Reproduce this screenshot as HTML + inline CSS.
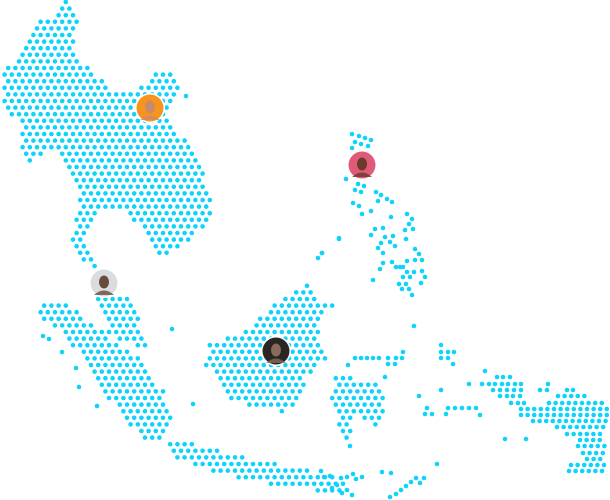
<!DOCTYPE html>
<html><head><meta charset="utf-8"><style>
html,body{margin:0;padding:0;background:#fff;width:610px;height:500px;overflow:hidden}
svg{display:block}
</style></head><body>
<svg id="s" width="610" height="500" viewBox="0 0 610 500" xmlns="http://www.w3.org/2000/svg">
<g id="d" fill="#0fd3fb"></g>
<g id="av"></g>
</svg>
<script>
var g=document.getElementById('d');
function dot(x,y,r){var c=document.createElementNS('http://www.w3.org/2000/svg','circle');c.setAttribute('cx',x);c.setAttribute('cy',y);c.setAttribute('r',r||2.3);g.appendChild(c);}
function inside(p,x,y){var c=false;for(var i=0,j=p.length-1;i<p.length;j=i++){var xi=p[i][0],yi=p[i][1],xj=p[j][0],yj=p[j][1];if(((yi>y)!=(yj>y))&&(x<(xj-xi)*(y-yi)/(yj-yi)+xi))c=!c;}return c;}
function fill(p){var dx=7.2,dy=6.6;for(var k=0;k*dy<500;k++){var y=2+k*dy;for(var j=-1;j*dx<615;j++){var x=1+j*dx+(k%2)*3.6;if(inside(p,x,y))dot(x,y);}}}
var polys=[
[[62,0],[72,5],[78,20],[72,35],[78,55],[95,75],[115,90],[135,90],[160,70],[175,75],[182,92],[170,105],[170,125],[185,140],[200,165],[210,195],[210,220],[195,235],[175,250],[160,258],[150,240],[140,225],[120,210],[100,210],[90,225],[85,245],[100,265],[95,272],[70,245],[75,225],[80,200],[68,175],[60,155],[45,150],[30,165],[20,150],[20,120],[5,110],[0,90],[5,70],[15,60],[30,40],[40,20],[55,15],[60,5]],
[[37,300],[65,303],[90,322],[110,338],[140,358],[165,393],[172,415],[165,440],[148,442],[120,415],[100,385],[80,355],[60,330],[38,315]],
[[96,297],[132,296],[139,320],[147,347],[135,347],[122,340],[108,333],[103,315],[97,310]],
[[207,346],[235,334],[255,323],[270,308],[290,294],[305,284],[315,289],[320,299],[335,304],[322,320],[318,343],[330,357],[316,366],[305,380],[300,400],[290,410],[280,416],[268,405],[250,406],[228,400],[220,385],[214,372],[205,370]],
[[168,444],[195,444],[230,454],[265,461],[300,469],[330,474],[345,485],[336,496],[300,488],[265,483],[225,476],[195,466],[170,456]],
[[333,374],[346,373],[360,384],[376,383],[386,400],[380,424],[370,425],[356,410],[352,430],[346,441],[337,420],[330,400],[334,390]]
];
polys.forEach(fill);
var pts=[[352,134],[359,136],[365,138],[371,140],[355,142],[361,144],[368,146],[352,148],[346,179],[358,184],[364,186],[355,190],[361,192],[376,192],[381,195],[387,199],[392,202],[378,201],[353,203],[359,206],[371,211],[362,214],[391,217],[407,214],[412,219],[409,224],[405,230],[413,229],[406,239],[383,228],[375,229],[371,235],[385,237],[393,236],[381,243],[390,242],[395,246],[378,248],[383,253],[339,239],[415,249],[419,254],[422,260],[415,260],[407,261],[400,267],[392,262],[383,263],[380,269],[396,267],[403,267],[407,272],[414,272],[422,271],[425,277],[403,277],[410,277],[399,284],[406,284],[421,283],[402,289],[409,289],[412,295],[373,280],[322,253],[414,326],
[355,358],[361,358],[367,358],[373,358],[379,358],[388,358],[396,358],[402,358],[403,352],[388,364],[395,364],
[441,345],[441,352],[448,352],[454,352],[441,358],[448,358],[453,364],[485,371],[385,377],[469,384],[441,390],[419,396],[427,408],[425,414],[432,414],[448,408],[455,408],[462,408],[469,408],[476,408],[446,414],[480,415],[505,439],[526,439],[437,464],[350,446],
[497,377],[503,377],[510,377],[482,384],[489,384],[495,384],[502,384],[508,384],[515,384],[521,384],[493,390],[500,390],[507,390],[514,390],[521,390],[500,396],[507,396],[513,396],[520,396],[511,403],[518,403],[524,403],[540,390],[547,390],[548,384],[567,390],[573,390],
[321,471],[324,477],[330,476],[332,488],[337,485],[341,478],[347,477],[353,474],[356,479],[362,477],[347,490],[342,493],[352,495],[382,472],[391,473],[390,497],[396,494],[401,490],[406,486],[411,482],[416,478],[420,483],[424,478],
[43,336],[49,339],[62,352],[76,368],[79,387],[97,406],[172,329],[193,404],[339,238],[318,258],[322,253],[348,365],[186,96]];
pts.forEach(function(p){dot(p[0],p[1]);});
var rows=[[396,558,585],[403,549,604],[409,521,607],[415,521,607],[421,533,606],[427,557,605],[434,567,603],[440,580,606],[446,578,605],[453,583,603],[459,587,603],[465,571,604],[471,569,603]];
rows.forEach(function(r){for(var x=r[1];x<=r[2]+0.1;x+=6.6)dot(x,r[0]);});
var av=document.getElementById('av');
var A=[[150,108,'#f7941d','#c98a6a'],[362,165,'#e05a7a','#6b3a2a'],[104,283,'#d9dde0','#6a4a3a'],[276,351,'#2a2624','#8a6a5a']];
A.forEach(function(a){av.innerHTML+='<circle cx="'+a[0]+'" cy="'+a[1]+'" r="15" fill="#fff"/><circle cx="'+a[0]+'" cy="'+a[1]+'" r="13.5" fill="'+a[2]+'"/><ellipse cx="'+a[0]+'" cy="'+(a[1]-1)+'" rx="5" ry="6.5" fill="'+a[3]+'"/><path d="M'+(a[0]-10)+' '+(a[1]+12)+' Q'+a[0]+' '+(a[1]+3)+' '+(a[0]+10)+' '+(a[1]+12)+'" fill="'+a[3]+'" opacity="0.8"/>';});
</script>
</body></html>
